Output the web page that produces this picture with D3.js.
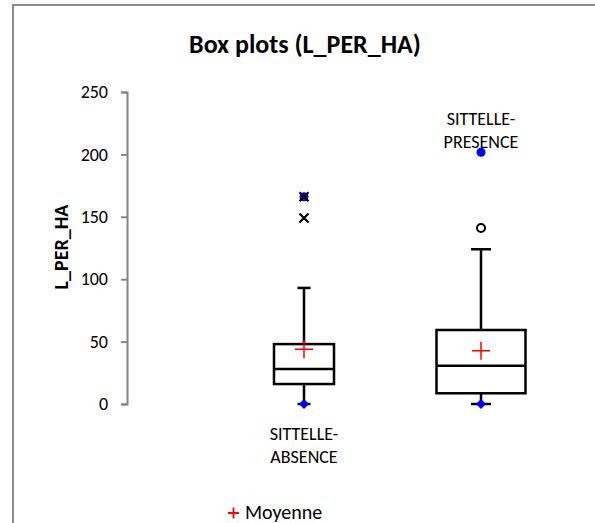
<!DOCTYPE html>
<html><head><meta charset="utf-8">
<script src="https://cdn.jsdelivr.net/npm/d3@7"></script>
<style>body{margin:0;background:#fff;} svg{display:block;font-family:Carlito,"Open Sans",sans-serif;}</style>
</head><body>
<svg id="c" width="595" height="523"></svg>
<script>
const categories = ["SITTELLE-ABSENCE", "SITTELLE-PRESENCE"];
const mins = [0, 0];
const q1 = [16, 8.6];
const medians = [28, 30.7];
const q3 = [48, 59.3];
const whiskerHigh = [93, 124];
const means = [43.8, 42.7];
const maxs = [166, 201.7];
const outliersX = [[166, 149], []];
const outliersO = [[], [141]];
const boxWidths = [60, 89];
const yTicks = [0, 50, 100, 150, 200, 250];

const svg = d3.select("#c");
svg.append("rect").attr("x",13).attr("y",5).attr("width",700).attr("height",700)
  .attr("fill","#fff").attr("stroke","#8c8c8c").attr("stroke-width",2);

const y = d3.scaleLinear().domain([0,250]).range([404,92]);
const x = d3.scaleLinear().domain([0,3]).range([127,658]);

const yAxis = svg.append("g").attr("transform","translate(127,0)")
  .call(d3.axisLeft(y).tickValues(yTicks).tickSize(6).tickPadding(13).tickFormat(d3.format("d")));
yAxis.select(".domain").attr("stroke","#868686").attr("stroke-width",2);
yAxis.selectAll(".tick line").attr("stroke","#868686").attr("stroke-width",2);
yAxis.selectAll(".tick text").attr("font-size",18).attr("fill","#000").attr("font-family",'Carlito,"Open Sans",sans-serif');

svg.append("text").attr("x",305).attr("y",53).attr("text-anchor","middle")
  .attr("font-size",26).attr("font-weight","bold").text("Box plots (L_PER_HA)");
svg.append("text").attr("transform","translate(68,247) rotate(-90)").attr("text-anchor","middle")
  .attr("font-size",20).attr("font-weight","bold").text("L_PER_HA");

categories.forEach((c,i)=>{
  const cx = x(i+1), w = boxWidths[i];
  const g = svg.append("g");
  g.append("line").attr("x1",cx).attr("x2",cx).attr("y1",y(q3[i])).attr("y2",y(whiskerHigh[i])).attr("stroke","#000").attr("stroke-width",2.5);
  g.append("line").attr("x1",cx).attr("x2",cx).attr("y1",y(q1[i])).attr("y2",y(mins[i])).attr("stroke","#000").attr("stroke-width",2.5);
  const cw = i===0 ? 13 : 20;
  g.append("line").attr("x1",cx-cw/2).attr("x2",cx+cw/2).attr("y1",y(whiskerHigh[i])).attr("y2",y(whiskerHigh[i])).attr("stroke","#000").attr("stroke-width",2.5);
  g.append("line").attr("x1",cx-cw/2).attr("x2",cx+cw/2).attr("y1",y(mins[i])).attr("y2",y(mins[i])).attr("stroke","#000").attr("stroke-width",2.5);
  g.append("rect").attr("x",cx-w/2).attr("y",y(q3[i])).attr("width",w).attr("height",y(q1[i])-y(q3[i]))
    .attr("fill","none").attr("stroke","#000").attr("stroke-width",2.5);
  g.append("line").attr("x1",cx-w/2).attr("x2",cx+w/2).attr("y1",y(medians[i])).attr("y2",y(medians[i])).attr("stroke","#000").attr("stroke-width",2.5);
  const my = y(means[i]);
  g.append("path").attr("d",`M${cx-9},${my}H${cx+9}M${cx},${my-9}V${my+9}`).attr("stroke","#ff0000").attr("stroke-width",1.5).attr("fill","none");
  g.append("path").attr("d",`M${cx},${y(mins[i])-5}L${cx+5},${y(mins[i])}L${cx},${y(mins[i])+5}L${cx-5},${y(mins[i])}Z`).attr("fill","#0000ff");
  g.append("circle").attr("cx",cx).attr("cy",y(maxs[i])).attr("r",4.5).attr("fill","#0000ff");
  outliersX[i].forEach(v=>{
    const oy=y(v);
    g.append("path").attr("d",`M${cx-4.5},${oy-4.5}L${cx+4.5},${oy+4.5}M${cx-4.5},${oy+4.5}L${cx+4.5},${oy-4.5}`).attr("stroke","#000").attr("stroke-width",2.2);
  });
  outliersO[i].forEach(v=>{
    g.append("circle").attr("cx",cx).attr("cy",y(v)).attr("r",4).attr("fill","#fff").attr("stroke","#000").attr("stroke-width",2);
  });
});

const parts = categories.map(c=>{const k=c.indexOf("-");return [c.slice(0,k+1), c.slice(k+1)];});
[[440,463],[125,148]].forEach((ys,i)=>{
  parts[i].forEach((t,j)=>{
    svg.append("text").attr("x",x(i+1)).attr("y",ys[j]).attr("text-anchor","middle").attr("font-size",18).text(t);
  });
});

svg.append("path").attr("d","M228,513H239M233.5,507.5V518.5").attr("stroke","#ff0000").attr("stroke-width",1.8);
svg.append("text").attr("x",245).attr("y",519).attr("font-size",20).text("Moyenne");
</script>
</body></html>
